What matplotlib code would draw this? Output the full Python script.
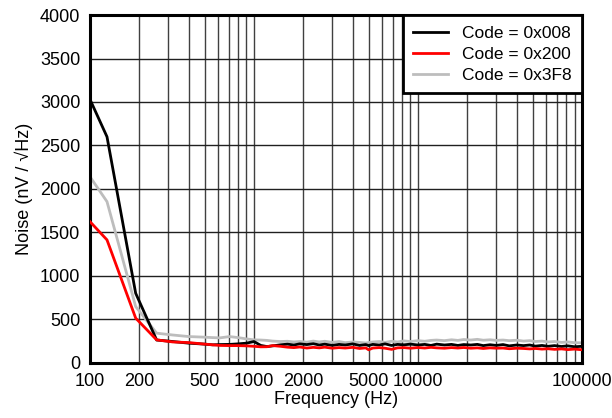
import matplotlib
matplotlib.use("Agg")
import matplotlib.pyplot as plt
from matplotlib.ticker import FixedLocator, NullFormatter

plt.rcParams['font.family'] = ['Liberation Sans', 'DejaVu Sans']

# Data
freq = [100, 127, 190, 255, 320, 400, 500, 560, 620, 710,
        800, 900, 1000, 1100, 1200, 1300, 1450, 1600, 1750, 1900,
        2100, 2300, 2500, 2700, 3000, 3300, 3600, 4000, 4400, 4800,
        5000, 5300, 5800, 6300, 6900, 7500, 8200, 9000, 10000, 11000,
        12000, 13000, 14500, 16000, 17500, 19000, 21000, 23000, 25000, 27500,
        30000, 33000, 36000, 40000, 44000, 48000, 52000, 57000, 62000, 68000,
        75000, 82000, 90000, 100000]

code_008 = [3030, 2600, 800, 262, 245, 226, 215, 207, 210, 212,
            218, 226, 245, 200, 187, 195, 207, 215, 205, 218,
            210, 220, 205, 215, 200, 212, 205, 218, 200, 210,
            198, 212, 205, 218, 200, 212, 207, 215, 205, 212,
            200, 215, 205, 212, 200, 210, 205, 212, 198, 208,
            200, 210, 195, 205, 198, 205, 192, 200, 190, 198,
            188, 195, 185, 190]

code_200 = [1624, 1414, 514, 264, 240, 233, 215, 207, 200, 198,
            198, 195, 190, 184, 185, 198, 190, 180, 175, 182,
            170, 178, 172, 180, 168, 175, 170, 178, 165, 172,
            150, 170, 175, 168, 155, 172, 175, 168, 176, 170,
            178, 172, 168, 175, 170, 176, 168, 172, 165, 172,
            168, 170, 162, 168, 165, 160, 165, 158, 162, 155,
            160, 152, 158, 150]

code_3f8 = [2141, 1854, 647, 341, 320, 302, 295, 290, 287, 302,
            290, 275, 264, 262, 258, 250, 245, 248, 240, 245,
            238, 250, 240, 248, 235, 245, 232, 240, 235, 228,
            233, 240, 245, 235, 248, 240, 252, 245, 255, 248,
            258, 262, 255, 265, 258, 268, 262, 270, 260, 265,
            258, 262, 255, 260, 250, 255, 245, 250, 240, 245,
            235, 240, 232, 230]

xtick_vals = [100, 200, 500, 1000, 2000, 5000, 10000, 100000]
xtick_labels = ['100', '200', '500', '1000', '2000', '5000', '10000', '100000']
ytick_vals = [0, 500, 1000, 1500, 2000, 2500, 3000, 3500, 4000]

# Plot
fig = plt.figure(figsize=(6.12, 4.18), dpi=100)
ax = fig.add_axes([0.147, 0.132, 0.804, 0.832])

ax.plot(freq, code_008, color='black', lw=2.0, label='Code = 0x008', zorder=3)
ax.plot(freq, code_200, color='#ff0000', lw=2.0, label='Code = 0x200', zorder=3)
ax.plot(freq, code_3f8, color='#bdbdbd', lw=2.0, label='Code = 0x3F8', zorder=2)

ax.set_xscale('log')
ax.set_xlim(100, 100000)
ax.set_ylim(0, 4000)

minor = [m * 10 ** e for e in range(2, 5) for m in range(1, 10)]
ax.xaxis.set_minor_locator(FixedLocator(minor))
ax.xaxis.set_minor_formatter(NullFormatter())
ax.set_xticks(xtick_vals)
ax.set_xticklabels(xtick_labels)
ax.set_yticks(ytick_vals)

ax.grid(True, which='both', axis='x', color='#404040', lw=1.0)
ax.grid(True, which='major', axis='y', color='#202020', lw=1.0)
ax.tick_params(which='both', length=0, labelsize=13, pad=7)

for s in ax.spines.values():
    s.set_linewidth(2.2)

ax.set_xlabel('Frequency (Hz)', fontsize=13, labelpad=1)
ax.set_ylabel('Noise (nV / \u221aHz)', fontsize=13, labelpad=5)

leg = ax.legend(loc='upper right', borderaxespad=0, fancybox=False,
                framealpha=1, edgecolor='black', fontsize=12.5,
                handlelength=2.0, labelspacing=0.35, borderpad=0.6)
leg.get_frame().set_linewidth(2.0)

fig.savefig('out.png', dpi=100)
